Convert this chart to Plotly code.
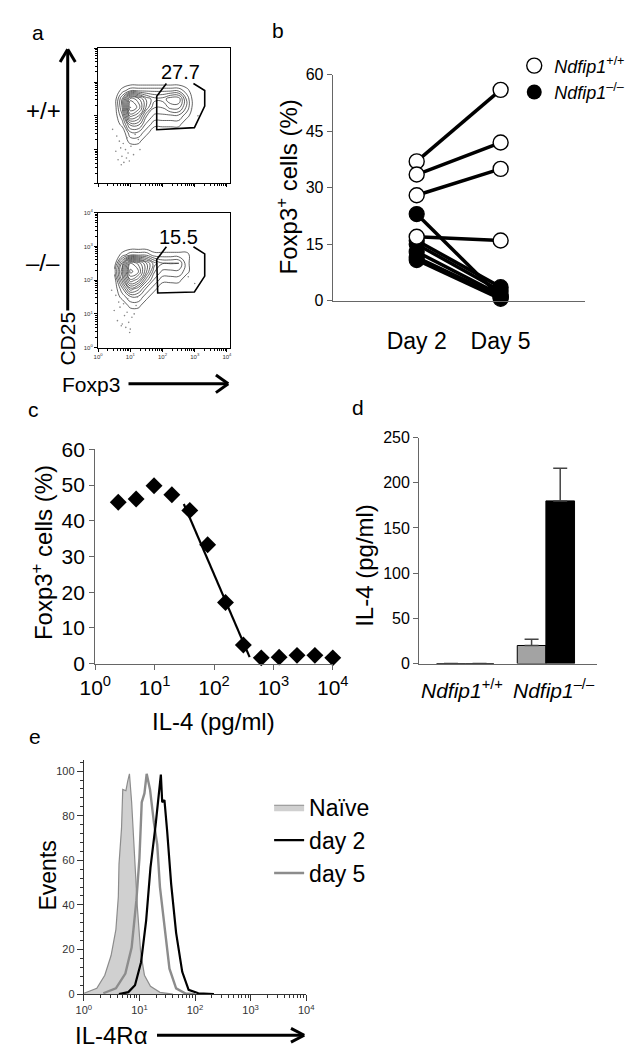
import math
import plotly.graph_objects as go

FONT = "Liberation Sans, Arial, sans-serif"
W, H = 641, 1048


def px(x):
    return x / W


def py(y):
    return 1 - y / H


# ---------------- panel a: flow contour (log10 fluorescence grid) ----------------
a_logx = [0.5, 0.75, 1.0, 1.25, 1.5, 1.75, 2.0, 2.25, 2.5, 2.75, 3.0, 3.25]
a_logy = [1.0, 1.25, 1.5, 1.75, 2.0, 2.25, 2.5, 2.75, 3.0]
a_wt_density = [
    [0, 0, 0, 0, 0, 0, 0, 0, 0, 0, 0, 0],
    [0, 0, 1, 1, 0, 0, 0, 0, 0, 0, 0, 0],
    [0, 0, 2, 2, 1, 0, 0, 0, 0, 0, 0, 0],
    [0, 1, 4, 4, 2, 1, 1, 1, 1, 0, 0, 0],
    [0, 2, 7, 6, 3, 2, 2, 2, 2, 1, 0, 0],
    [0, 3, 9, 8, 5, 3, 3, 4, 4, 2, 0, 0],
    [0, 3, 8, 7, 5, 4, 4, 5, 5, 2, 0, 0],
    [0, 1, 2, 2, 2, 2, 2, 2, 2, 1, 0, 0],
    [0, 0, 0, 0, 0, 0, 0, 0, 0, 0, 0, 0],
]
a_ko_density = [
    [0, 0, 0, 0, 0, 0, 0, 0, 0, 0, 0, 0],
    [0, 0, 1, 1, 0, 0, 0, 0, 0, 0, 0, 0],
    [0, 1, 2, 2, 1, 0, 0, 0, 0, 0, 0, 0],
    [0, 2, 5, 4, 2, 1, 0, 0, 0, 0, 0, 0],
    [0, 4, 8, 7, 4, 2, 1, 1, 1, 0, 0, 0],
    [1, 5, 10, 9, 6, 3, 2, 2, 2, 1, 0, 0],
    [0, 4, 9, 8, 6, 4, 3, 3, 3, 1, 0, 0],
    [0, 1, 2, 2, 2, 1, 1, 1, 1, 1, 0, 0],
    [0, 0, 0, 0, 0, 0, 0, 0, 0, 0, 0, 0],
]
a_wt_dots_x = [0.55, 0.62, 0.70, 0.74, 0.80, 0.85, 0.88, 0.93, 0.97, 1.02, 0.66, 0.78, 0.90, 1.10, 0.58, 0.72, 1.15, 1.25, 2.9, 3.1, 0.45, 1.3]
a_wt_dots_y = [0.95, 0.70, 1.05, 0.80, 0.62, 1.00, 0.75, 0.90, 0.66, 1.10, 1.25, 1.18, 1.35, 0.85, 1.40, 0.55, 1.45, 1.30, 2.2, 2.0, 1.6, 1.0]
a_ko_dots_x = [0.50, 0.60, 0.68, 0.75, 0.82, 0.86, 0.90, 0.95, 1.00, 1.05, 0.64, 0.79, 0.92, 1.12, 0.55, 0.72, 1.18, 1.22, 2.8, 3.0, 0.42, 0.98]
a_ko_dots_y = [1.10, 0.80, 1.20, 0.70, 0.95, 0.60, 1.05, 0.75, 0.55, 0.90, 1.35, 1.30, 1.45, 1.00, 1.55, 0.65, 1.25, 1.50, 2.1, 1.9, 1.7, 0.45]
a_wt_gate_x = [2.12, 1.82, 1.82, 2.99, 3.31, 3.31, 2.96]
a_wt_gate_y = [2.96, 2.58, 1.59, 1.65, 2.29, 2.75, 2.96]
a_ko_gate_x = [2.12, 1.82, 1.85, 2.99, 3.31, 3.31, 2.96]
a_ko_gate_y = [2.99, 2.61, 1.62, 1.65, 2.12, 2.78, 2.99]
a_wt_pct = "27.7"
a_ko_pct = "15.5"
a_ticks = [0, 1, 2, 3, 4]
a_ticktext = ["10<sup>0</sup>", "10<sup>1</sup>", "10<sup>2</sup>", "10<sup>3</sup>", "10<sup>4</sup>"]

# ---------------- panel b ----------------
b_days = ["Day 2", "Day 5"]
b_wt_day2 = [37, 33.5, 28, 17]
b_wt_day5 = [56, 42, 35, 16]
b_ko_day2 = [23, 16, 15, 13, 11.5, 10.8]
b_ko_day5 = [1, 3.6, 2.6, 1.5, 1.0, 0.5]

# ---------------- panel c ----------------
c_il4 = [2.44, 4.88, 9.77, 19.5, 39.1, 78.1, 156, 312, 625, 1250, 2500, 5000, 10000]
c_foxp3 = [45.2, 46.1, 49.8, 47.3, 42.9, 33.3, 17.1, 5.2, 1.6, 1.8, 2.3, 2.3, 1.6]
c_fit_x = [31, 398]
c_fit_y = [44.7, 1.8]

# ---------------- panel d ----------------
d_groups = ["<i>Ndfip1</i><sup>+/+</sup>", "<i>Ndfip1</i><sup>–/–</sup>"]
d_gray = [0, 20]
d_gray_err = [0, 7]
d_black = [0, 180]
d_black_err = [0, 36]

# ---------------- panel e ----------------
e_naive_x = [1.01, 1.71, 2.38, 3.09, 3.77, 4.17, 4.29, 4.76, 5.01, 5.71, 6.17, 6.61, 7.24, 8.05, 9.18, 10.5, 12.3, 15.8, 23.4, 39.8]
e_naive_y = [0.4, 2.6, 8.5, 17.3, 28.9, 43.6, 58.3, 74.3, 91.8, 91.2, 95.6, 98.8, 86, 64, 39, 19, 8.5, 3.5, 0.8, 0]
e_day2_x = [4.27, 6.31, 8.32, 10.7, 13.2, 15.8, 19.5, 22.1, 24.3, 25.7, 28.2, 31.6, 37.2, 45.7, 58.9, 76.7, 115, 219]
e_day2_y = [0, 0.9, 4, 14.3, 33, 56.7, 75.7, 89, 98.4, 86, 87, 72.8, 49.4, 27.5, 10, 1.9, 0.4, 0]
e_day5_x = [2.24, 3.77, 5.58, 7.24, 8.81, 10.0, 11.0, 12.3, 13.5, 15.5, 18.2, 20.9, 23.4, 28.8, 34.7, 45.7, 67.6, 100]
e_day5_y = [0.4, 2.6, 9.2, 20.9, 42, 61, 86, 90, 98.8, 91.8, 77, 67, 48, 27.5, 11.4, 2.6, 0.3, 0]
e_xticks = [1, 10, 100, 1000, 10000]

fig = go.Figure()

# ---- panel a traces
for density, dx, dy, gx, gy, xa, ya in [
    (a_wt_density, a_wt_dots_x, a_wt_dots_y, a_wt_gate_x, a_wt_gate_y, "x", "y"),
    (a_ko_density, a_ko_dots_x, a_ko_dots_y, a_ko_gate_x, a_ko_gate_y, "x2", "y2"),
]:
    fig.add_trace(go.Scatter(x=dx, y=dy, mode="markers", xaxis=xa, yaxis=ya,
                             marker=dict(size=1.6, color="#888"), showlegend=False, hoverinfo="skip"))
    fig.add_trace(go.Contour(x=a_logx, y=a_logy, z=density, xaxis=xa, yaxis=ya,
                             contours=dict(coloring="lines", start=0.7, end=10, size=0.75),
                             line=dict(width=0.7, smoothing=1.3),
                             colorscale=[[0, "#222"], [1, "#222"]], showscale=False, hoverinfo="skip"))
    fig.add_trace(go.Scatter(x=gx, y=gy, mode="lines", xaxis=xa, yaxis=ya,
                             line=dict(color="black", width=1.6), showlegend=False, hoverinfo="skip"))

# ---- panel b traces
line_x, line_y = [], []
for d2, d5 in list(zip(b_wt_day2, b_wt_day5)) + list(zip(b_ko_day2, b_ko_day5)):
    line_x += [b_days[0], b_days[1], None]
    line_y += [d2, d5, None]
fig.add_trace(go.Scatter(x=line_x, y=line_y, mode="lines", xaxis="x3", yaxis="y3",
                         line=dict(color="black", width=3.5), showlegend=False, cliponaxis=False))
fig.add_trace(go.Scatter(x=[b_days[0]] * len(b_ko_day2) + [b_days[1]] * len(b_ko_day5),
                         y=b_ko_day2 + b_ko_day5, mode="markers", xaxis="x3", yaxis="y3",
                         marker=dict(size=15, color="black", line=dict(color="black", width=1.2)),
                         showlegend=False, cliponaxis=False))
fig.add_trace(go.Scatter(x=[b_days[0]] * len(b_wt_day2) + [b_days[1]] * len(b_wt_day5),
                         y=b_wt_day2 + b_wt_day5, mode="markers", xaxis="x3", yaxis="y3",
                         marker=dict(size=15, color="white", line=dict(color="black", width=1.4)),
                         showlegend=False, cliponaxis=False))
fig.add_trace(go.Scatter(x=[None], y=[None], mode="markers", xaxis="x3", yaxis="y3",
                         marker=dict(size=15, color="white", line=dict(color="black", width=1.4)),
                         name="<i>Ndfip1</i><sup>+/+</sup>", legend="legend"))
fig.add_trace(go.Scatter(x=[None], y=[None], mode="markers", xaxis="x3", yaxis="y3",
                         marker=dict(size=15, color="black"),
                         name="<i>Ndfip1</i><sup>–/–</sup>", legend="legend"))

# ---- panel c traces
fig.add_trace(go.Scatter(x=c_fit_x, y=c_fit_y, mode="lines", xaxis="x4", yaxis="y4",
                         line=dict(color="black", width=2.2), showlegend=False))
fig.add_trace(go.Scatter(x=c_il4, y=c_foxp3, mode="markers", xaxis="x4", yaxis="y4",
                         marker=dict(symbol="diamond", size=13, color="black"),
                         showlegend=False, cliponaxis=False))

# ---- panel d traces
fig.add_trace(go.Bar(x=d_groups, y=d_gray, xaxis="x5", yaxis="y5",
                     marker=dict(color="#a3a3a3", line=dict(color="black", width=1)),
                     error_y=dict(type="data", array=d_gray_err, arrayminus=[0, 0], symmetric=False,
                                  color="#444", thickness=1.5, width=7),
                     showlegend=False))
fig.add_trace(go.Bar(x=d_groups, y=d_black, xaxis="x5", yaxis="y5",
                     marker=dict(color="black", line=dict(color="black", width=1)),
                     error_y=dict(type="data", array=d_black_err, arrayminus=[0, 0], symmetric=False,
                                  color="#444", thickness=1.5, width=7),
                     showlegend=False))

# ---- panel e traces
fig.add_trace(go.Scatter(x=e_naive_x, y=e_naive_y, mode="lines", fill="tozeroy", xaxis="x6", yaxis="y6",
                         fillcolor="#d0d0d0", line=dict(color="#8c8c8c", width=1.2),
                         name="Naïve", legend="legend2", legendrank=1))
fig.add_trace(go.Scatter(x=e_day5_x, y=e_day5_y, mode="lines", xaxis="x6", yaxis="y6",
                         line=dict(color="#8c8c8c", width=2.4), name="day 5", legend="legend2",
                         legendrank=3))
fig.add_trace(go.Scatter(x=e_day2_x, y=e_day2_y, mode="lines", xaxis="x6", yaxis="y6",
                         line=dict(color="black", width=2.2), name="day 2", legend="legend2",
                         legendrank=2))

# ---------------- axes ----------------
a_minor = [k + math.log10(m) for k in range(4) for m in range(2, 10)]
axis_a = dict(showgrid=False, zeroline=False, showline=True, linecolor="black", linewidth=1.2,
              mirror=True, ticks="outside", ticklen=3, tickwidth=1, tickcolor="black",
              tickvals=a_ticks, ticktext=a_ticktext, tickfont=dict(size=6, color="#333", family=FONT),
              minor=dict(tickvals=a_minor, ticks="outside", ticklen=2, tickcolor="black", tickwidth=0.8))
fig.update_layout(
    xaxis=dict(axis_a, domain=[px(78), px(217)], range=[0, 4.1], anchor="y", showticklabels=False),
    yaxis=dict(axis_a, domain=[py(167), py(29)], range=[0, 4], anchor="x", showticklabels=False),
    xaxis2=dict(axis_a, domain=[px(78), px(217)], range=[0, 4.1], anchor="y2"),
    yaxis2=dict(axis_a, domain=[py(335), py(197)], range=[0, 4], anchor="x2"),
)

GRAY = "#666"
fig.update_layout(
    xaxis3=dict(domain=[px(325), px(590)], anchor="y3", type="category", range=[-1, 2.0],
                showgrid=False, zeroline=False, showline=True, linecolor=GRAY, linewidth=1.3,
                ticks="", tickfont=dict(size=23, color="black", family=FONT), ticklabelstandoff=20),
    yaxis3=dict(domain=[py(287), py(56)], anchor="x3", range=[0, 60], tickvals=[0, 15, 30, 45, 60],
                showgrid=False, zeroline=False, showline=True, linecolor=GRAY, linewidth=1.3,
                ticks="outside", ticklen=5, tickcolor=GRAY, tickfont=dict(size=16, color="black", family=FONT)),
    xaxis4=dict(domain=[px(75), px(325)], anchor="y4", type="log", range=[0, 4],
                tickvals=[1, 10, 100, 1000, 10000], ticktext=a_ticktext,
                showgrid=False, zeroline=False, showline=True, linecolor=GRAY, linewidth=1.3,
                ticks="outside", ticklen=5, tickcolor=GRAY, tickfont=dict(size=21, color="black", family=FONT)),
    yaxis4=dict(domain=[py(658), py(439)], anchor="x4", range=[0, 60], dtick=10,
                showgrid=False, zeroline=False, showline=True, linecolor=GRAY, linewidth=1.3,
                ticks="outside", ticklen=5, tickcolor=GRAY, tickfont=dict(size=21, color="black", family=FONT)),
    xaxis5=dict(domain=[px(416), px(603)], anchor="y5", showgrid=False, zeroline=False,
                showline=True, linecolor=GRAY, linewidth=1.3, ticks="", showticklabels=False),
    yaxis5=dict(domain=[py(658), py(427)], anchor="x5", range=[0, 250], dtick=50,
                showgrid=False, zeroline=False, showline=True, linecolor=GRAY, linewidth=1.3,
                ticks="outside", ticklen=5, tickcolor=GRAY, tickfont=dict(size=16, color="black", family=FONT)),
    xaxis6=dict(domain=[px(63), px(297)], anchor="y6", type="log", range=[0, 4],
                tickvals=e_xticks, ticktext=a_ticktext,
                showgrid=False, zeroline=False, showline=True, linecolor="#333", linewidth=1.2,
                ticks="outside", ticklen=6, tickcolor="#333", tickfont=dict(size=11, color="#333", family=FONT),
                minor=dict(tickvals=[m * 10 ** k for k in range(4) for m in range(2, 10)],
                           ticks="outside", ticklen=3, tickcolor="#333")),
    yaxis6=dict(domain=[py(996), py(757)], anchor="x6", range=[0, 104.8], dtick=20,
                showgrid=False, zeroline=False, showline=True, linecolor="#333", linewidth=1.2,
                ticks="outside", ticklen=6, tickcolor="#333", tickfont=dict(size=11, color="#333", family=FONT),
                minor=dict(dtick=4, ticks="outside", ticklen=3, tickcolor="#333")),
    bargap=0.29, bargroupgap=0, barmode="group",
)

# ---------------- legends ----------------
fig.update_layout(
    legend=dict(x=px(516), y=py(28), xanchor="left", yanchor="top", bgcolor="rgba(0,0,0,0)",
                font=dict(size=18, color="black", family=FONT), itemwidth=30, tracegroupgap=0),
    legend2=dict(x=px(258), y=py(783), xanchor="left", yanchor="top", bgcolor="rgba(0,0,0,0)",
                 font=dict(size=23, color="black", family=FONT), itemwidth=30,
                 traceorder="normal"),
)

# ---------------- text ----------------
def txt(x, y, s, size, angle=0, xref="paper", yref="paper", xanchor="center", xshift=0):
    return dict(x=x, y=y, xref=xref, yref=yref, text=s, showarrow=False, textangle=angle,
                font=dict(size=size, color="black", family=FONT), xanchor=xanchor, yanchor="middle",
                xshift=xshift)


annotations = [
    txt(px(15), py(13), "a", 21),
    txt(px(267), py(11), "b", 21),
    txt(px(10), py(398), "c", 21),
    txt(px(352), py(396), "d", 21),
    txt(px(12), py(733), "e", 21),
    txt(px(20), py(93), "+/+", 24),
    txt(px(20), py(248), "–/–", 24),
    txt(px(46), py(326), "CD25", 21, angle=-90),
    txt(px(71), py(373), "Foxp3", 21),
    txt(2.57, 3.30, a_wt_pct, 20, xref="x", yref="y"),
    txt(2.51, 3.28, a_ko_pct, 20, xref="x2", yref="y2"),
    txt(px(277), py(171), "Foxp3<sup>+</sup> cells (%)", 24, angle=-90),
    txt(px(19), py(545), "Foxp3<sup>+</sup> cells (%)", 24, angle=-90),
    txt(px(199), py(717), "IL-4 (pg/ml)", 24),
    txt(px(359), py(558), "IL-4 (pg/ml)", 24, angle=-90),
    txt(px(25), py(875), "Events", 23, angle=-90),
    txt(px(92), py(1038), "IL-4Rα", 24),
    txt(d_groups[0], py(684), d_groups[0], 21, xref="x5", xshift=-3),
    txt(d_groups[1], py(684), d_groups[1], 21, xref="x5", xshift=8),
]
fig.update_layout(annotations=annotations)

# arrows (decorative)
def seg(x0, y0, x1, y1, w=3):
    return dict(type="line", xref="paper", yref="paper", x0=px(x0), y0=py(y0), x1=px(x1), y1=py(y1),
                line=dict(color="black", width=w))


shapes = [
    seg(46, 297, 46, 31), seg(38, 43, 46, 30), seg(54, 43, 46, 30),
    seg(110, 372, 214, 372), seg(202, 363, 215, 372), seg(202, 381, 215, 372),
    seg(140, 1038, 294, 1038), seg(281, 1031, 295, 1038), seg(281, 1045, 295, 1038),
]
fig.update_layout(shapes=shapes)

fig.update_layout(width=W, height=H, margin=dict(l=0, r=0, t=0, b=0),
                  paper_bgcolor="white", plot_bgcolor="white",
                  font=dict(family=FONT, color="black"))

fig.write_html("out.html")
